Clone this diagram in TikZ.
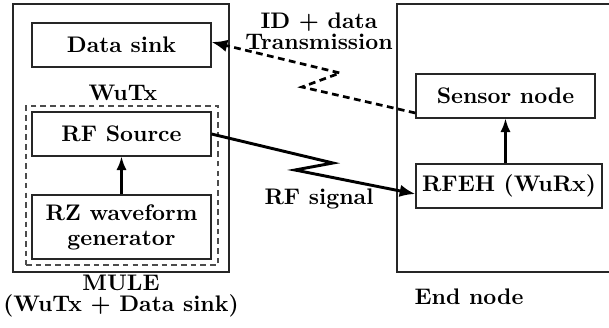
\documentclass[tikz,border=0pt]{standalone}
\usetikzlibrary{arrows.meta,calc}
\def\pu{0.444pt}
\tikzset{
  blk/.style={draw=black!85, line width=0.5pt, inner sep=0pt, align=center, font=\bfseries},
  lbl/.style={inner sep=0pt, align=center, font=\bfseries},
  uparrow/.style={line width=0.9pt, -{Latex[length=6pt,width=4.5pt]}},
  rfarrow/.style={line width=1.3pt, -{Latex[length=7pt,width=5.5pt]}},
  dataarrow/.style={line width=1.2pt, dash pattern=on 3pt off 2pt, -{Latex[length=7pt,width=5.5pt]}},
}
\begin{document}
\begin{tikzpicture}[x=\pu, y=-\pu]
\useasboundingbox (0,0) rectangle (609,327);
% MULE box
\node[blk, minimum width=216*\pu, minimum height=268*\pu] (mule) at (121,138) {};
\node[draw=black!70, line width=0.5pt, dash pattern=on 2.5pt off 1.8pt, minimum width=192*\pu, minimum height=159*\pu, inner sep=0pt] (wutx) at (122,185.5) {};
\node[blk, minimum width=179*\pu, minimum height=44*\pu] (sink) at (121.5,45) {Data sink};
\node[blk, minimum width=179*\pu, minimum height=44*\pu] (rfs) at (121.5,134) {RF Source};
\node[blk, minimum width=179*\pu, minimum height=64*\pu] (rz) at (121.5,227) {RZ waveform\\[-1pt]generator};
\node[lbl] (wutxl) at (123,93) {WuTx};
\node[lbl] (mulel) at (121,296) {MULE\\[-2.5pt](WuTx + Data sink)};
% End node
\draw[draw=black!85, line width=0.5pt] (615,4) -- (397,4) -- (397,272) -- (615,272);
\node[blk, minimum width=179*\pu, minimum height=44*\pu] (sensor) at (505.5,96) {Sensor node};
\node[blk, minimum width=186*\pu, minimum height=44*\pu] (rfeh) at (509,186) {RFEH (WuRx)};
\node[lbl] (endl) at (469,297) {End node};
% labels
\node[lbl] (idl) at (319,31) {ID + data\\[-2.5pt]Transmission};
\node[lbl] (rfl) at (319,199) {RF signal};
% connectors
\draw[uparrow] (rz.north -| rfs.south) -- (rfs.south);
\draw[uparrow] (rfeh.north -| sensor.south) -- (sensor.south);
\coordinate (z1) at (333,163);
\coordinate (z2) at (295,170);
\draw[rfarrow] (rfs.east) -- (z1) -- (z2) -- ($(rfeh.west)+(0,8)$);
\coordinate (d1) at (302,87);
\coordinate (d2) at (340,73);
\draw[dataarrow] ($(sensor.west)+(0,17)$) -- (d1) -- (d2) -- ($(sink.east)+(0,-3)$);
\end{tikzpicture}
\end{document}
